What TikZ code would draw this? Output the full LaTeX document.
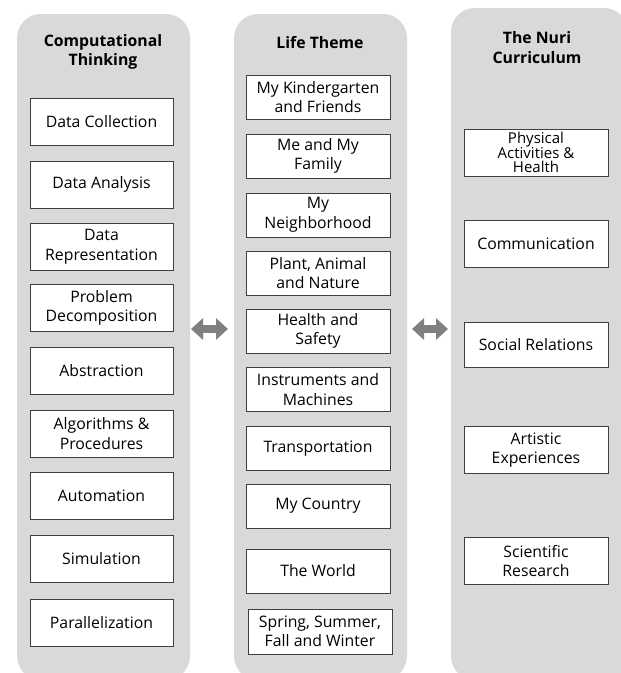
\documentclass[tikz,border=0pt]{standalone}
\usepackage{fontspec}
\setmainfont{Open Sans}
\usetikzlibrary{arrows.meta}
\definecolor{panelgray}{RGB}{217,217,217}
\definecolor{arrowgray}{RGB}{128,128,128}
\tikzset{
  panel/.style={fill=panelgray, rounded corners=24pt, minimum width=173pt, inner sep=0pt},
  item/.style={draw=black!75, fill=white, line width=0.8pt, minimum width=143pt, minimum height=47pt, inner sep=1pt, align=center, font=\fontsize{15.8}{19.5}\selectfont},
  heading/.style={align=center, font=\bfseries\fontsize{15.8}{19.5}\selectfont},
  link/.style={arrowgray, line width=8pt, {Triangle[width=21pt,length=12pt]}-{Triangle[width=21pt,length=12pt]}}
}

\begin{document}
\begin{tikzpicture}[x=1pt, y=-1pt]
\useasboundingbox (0,0) rectangle (621,673);

% panels
\node[panel, minimum height=666pt] (ct) at (103.5,347) {};
\node[panel, minimum height=666pt] (lt) at (320.5,347) {};
\node[panel, minimum width=177pt, minimum height=672pt] (nc) at (539.5,344) {};

\node[heading] (cth) at (103,52) {Computational\\Thinking};
\node[heading] (lth) at (320,43) {Life Theme};
\node[heading] (nch) at (537,47.5) {The Nuri\\Curriculum};

% computational thinking
\node[item] (c1) at (101.5,121.5) {Data Collection};
\node[item] (c2) at (101.5,184.5) {Data Analysis};
\node[item] (c3) at (101.5,247) {Data\\Representation};
\node[item] (c4) at (101.5,308) {Problem\\Decomposition};
\node[item] (c5) at (101.5,370.5) {Abstraction};
\node[item] (c6) at (101.5,433.5) {Algorithms \&\\Procedures};
\node[item] (c7) at (101.5,496) {Automation};
\node[item] (c8) at (101.5,559) {Simulation};
\node[item] (c9) at (101.5,623) {Parallelization};

% life theme
\node[item, minimum width=144pt, minimum height=44pt] (t1) at (318,97) {My Kindergarten\\and Friends};
\node[item, minimum width=144pt, minimum height=44pt] (t2) at (318,156) {Me and My\\Family};
\node[item, minimum width=144pt, minimum height=44pt] (t3) at (318,215) {My\\Neighborhood};
\node[item, minimum width=144pt, minimum height=44pt] (t4) at (318,273) {Plant, Animal\\and Nature};
\node[item, minimum width=144pt, minimum height=44pt] (t5) at (318,331) {Health and\\Safety};
\node[item, minimum width=144pt, minimum height=44pt] (t6) at (318,389.5) {Instruments and\\Machines};
\node[item, minimum width=144pt, minimum height=44pt] (t7) at (318,448.5) {Transportation};
\node[item, minimum width=144pt, minimum height=44pt] (t8) at (318,506) {My Country};
\node[item, minimum width=144pt, minimum height=44pt] (t9) at (318,571) {The World};
\node[item, minimum width=144pt, minimum height=45pt] (t10) at (320,631.5) {Spring, Summer,\\Fall and Winter};

% nuri curriculum
\node[item, minimum width=144pt, font=\fontsize{15}{14}\selectfont] (n1) at (536,152.5) {Physical\\Activities \&\\Health};
\node[item, minimum width=144pt] (n2) at (536,243.5) {Communication};
\node[item, minimum width=144pt, minimum height=45pt] (n3) at (536,344.5) {Social Relations};
\node[item, minimum width=144pt] (n4) at (536,450) {Artistic\\Experiences};
\node[item, minimum width=144pt] (n5) at (536,561) {Scientific\\Research};

% arrows
\coordinate (a1) at (191,329);
\coordinate (a2) at (228,329);
\coordinate (b1) at (412,329);
\coordinate (b2) at (448,329);
\draw[link] (a1) -- (a2);
\draw[link] (b1) -- (b2);
\end{tikzpicture}
\end{document}
